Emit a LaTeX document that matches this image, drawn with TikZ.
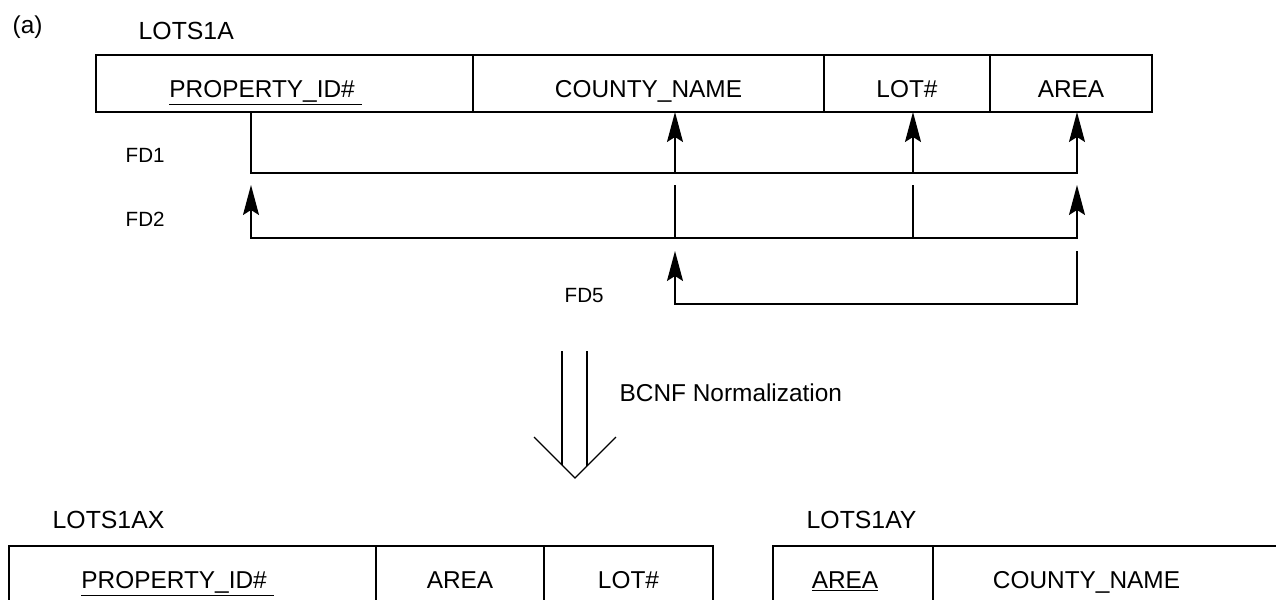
\documentclass[tikz,border=0pt]{standalone}
\usepackage{fontspec}
\setmainfont{Liberation Sans}
\usetikzlibrary{positioning,arrows.meta}
\newcommand{\tabfont}{\fontsize{12.2pt}{14pt}\selectfont}
\newcommand{\relfont}{\fontsize{12.4pt}{14pt}\selectfont}
\newcommand{\fdfont}{\fontsize{10.3pt}{12pt}\selectfont}
\tikzset{
cell/.style={
  draw=black, rectangle, inner sep=0pt, outer sep=0pt,
  minimum height=28.5pt, text height=13.5pt, text depth=0pt,
  font=\tabfont
  },
relname/.style={anchor=base west, inner sep=0pt, font=\relfont},
fdlabel/.style={anchor=base west, inner sep=0pt, font=\fdfont},
fd/.style={-{Stealth[length=15pt,width=8pt,inset=2.5pt]}},
fdboth/.style={{Stealth[length=15pt,width=8pt,inset=2.5pt]}-{Stealth[length=15pt,width=8pt,inset=2.5pt]}}
}

\begin{document}
\begin{tikzpicture}[x=0.5pt,y=-0.5pt,line width=0.7pt]
\useasboundingbox (0,0) rectangle (1276,600);

\node[anchor=base west, inner sep=0pt, font=\tabfont] (tag) at (12,33) {(a)};
\node[relname] (lots1a) at (138,39) {LOTS1A};

% relation LOTS1A
\node[cell, anchor=north west, minimum width=188.5pt] (a1) at (96,55)
  {\underline{PROPERTY\_ID\#\ }\hspace*{19pt}};
\node[cell, right=0pt of a1, minimum width=175.5pt] (a2) {COUNTY\_NAME};
\node[cell, right=0pt of a2, minimum width=83pt] (a3) {LOT\#};
\node[cell, right=0pt of a3, minimum width=81pt] (a4) {AREA};

% columns and levels of the dependencies
\coordinate (colP) at (251,0);
\coordinate (colC) at (675,0);
\coordinate (colL) at (913,0);
\coordinate (colA) at (1077,0);
\coordinate (fd1) at (0,173);
\coordinate (fd2top) at (0,185);
\coordinate (fd2) at (0,238);
\coordinate (fd5top) at (0,251);
\coordinate (fd5) at (0,304);

% FD1
\draw[fd] (colP |- a1.south) -- (colP |- fd1) -- (colA |- fd1) -- (colA |- a4.south);
\draw[fd] (colC |- fd1) -- (colC |- a2.south);
\draw[fd] (colL |- fd1) -- (colL |- a3.south);
\node[fdlabel] (fd1lbl) at (125,162) {FD1};

% FD2
\draw[fdboth] (colP |- fd2top) -- (colP |- fd2) -- (colA |- fd2) -- (colA |- fd2top);
\draw (colC |- fd2top) -- (colC |- fd2);
\draw (colL |- fd2top) -- (colL |- fd2);
\node[fdlabel] (fd2lbl) at (125,226) {FD2};

% FD5
\draw[fd] (colA |- fd5top) -- (colA |- fd5) -- (colC |- fd5) -- (colC |- fd5top);
\node[fdlabel] (fd5lbl) at (564,302) {FD5};

% normalization arrow
\coordinate (normtop) at (574.5,351);
\coordinate (normtip) at (575,478);
\draw (normtop) ++(-12.5,0) -- ++(0,114);
\draw (normtop) ++(12.5,0) -- ++(0,115);
\draw (normtip) ++(-41,-41) -- (normtip) -- ++(41,-41);
\node[anchor=base west, inner sep=0pt, font=\tabfont] (norm) at (619,401) {BCNF Normalization};

% relation LOTS1AX
\node[relname] (lots1ax) at (52,528) {LOTS1AX};
\node[cell, anchor=north west, minimum width=183.5pt] (x1) at (9,546)
  {\underline{PROPERTY\_ID\#\ }\hspace*{15pt}};
\node[cell, right=0pt of x1, minimum width=84pt] (x2) {AREA};
\node[cell, right=0pt of x2, minimum width=84.5pt] (x3) {LOT\#};

% relation LOTS1AY
\node[relname] (lots1ay) at (806,528) {LOTS1AY};
\node[cell, anchor=north west, minimum width=80pt] (y1) at (773,546)
  {\underline{AREA}\hspace*{8pt}};
\node[cell, right=0pt of y1, minimum width=174.5pt] (y2) {COUNTY\_NAME\hspace*{21pt}};

\end{tikzpicture}
\end{document}
